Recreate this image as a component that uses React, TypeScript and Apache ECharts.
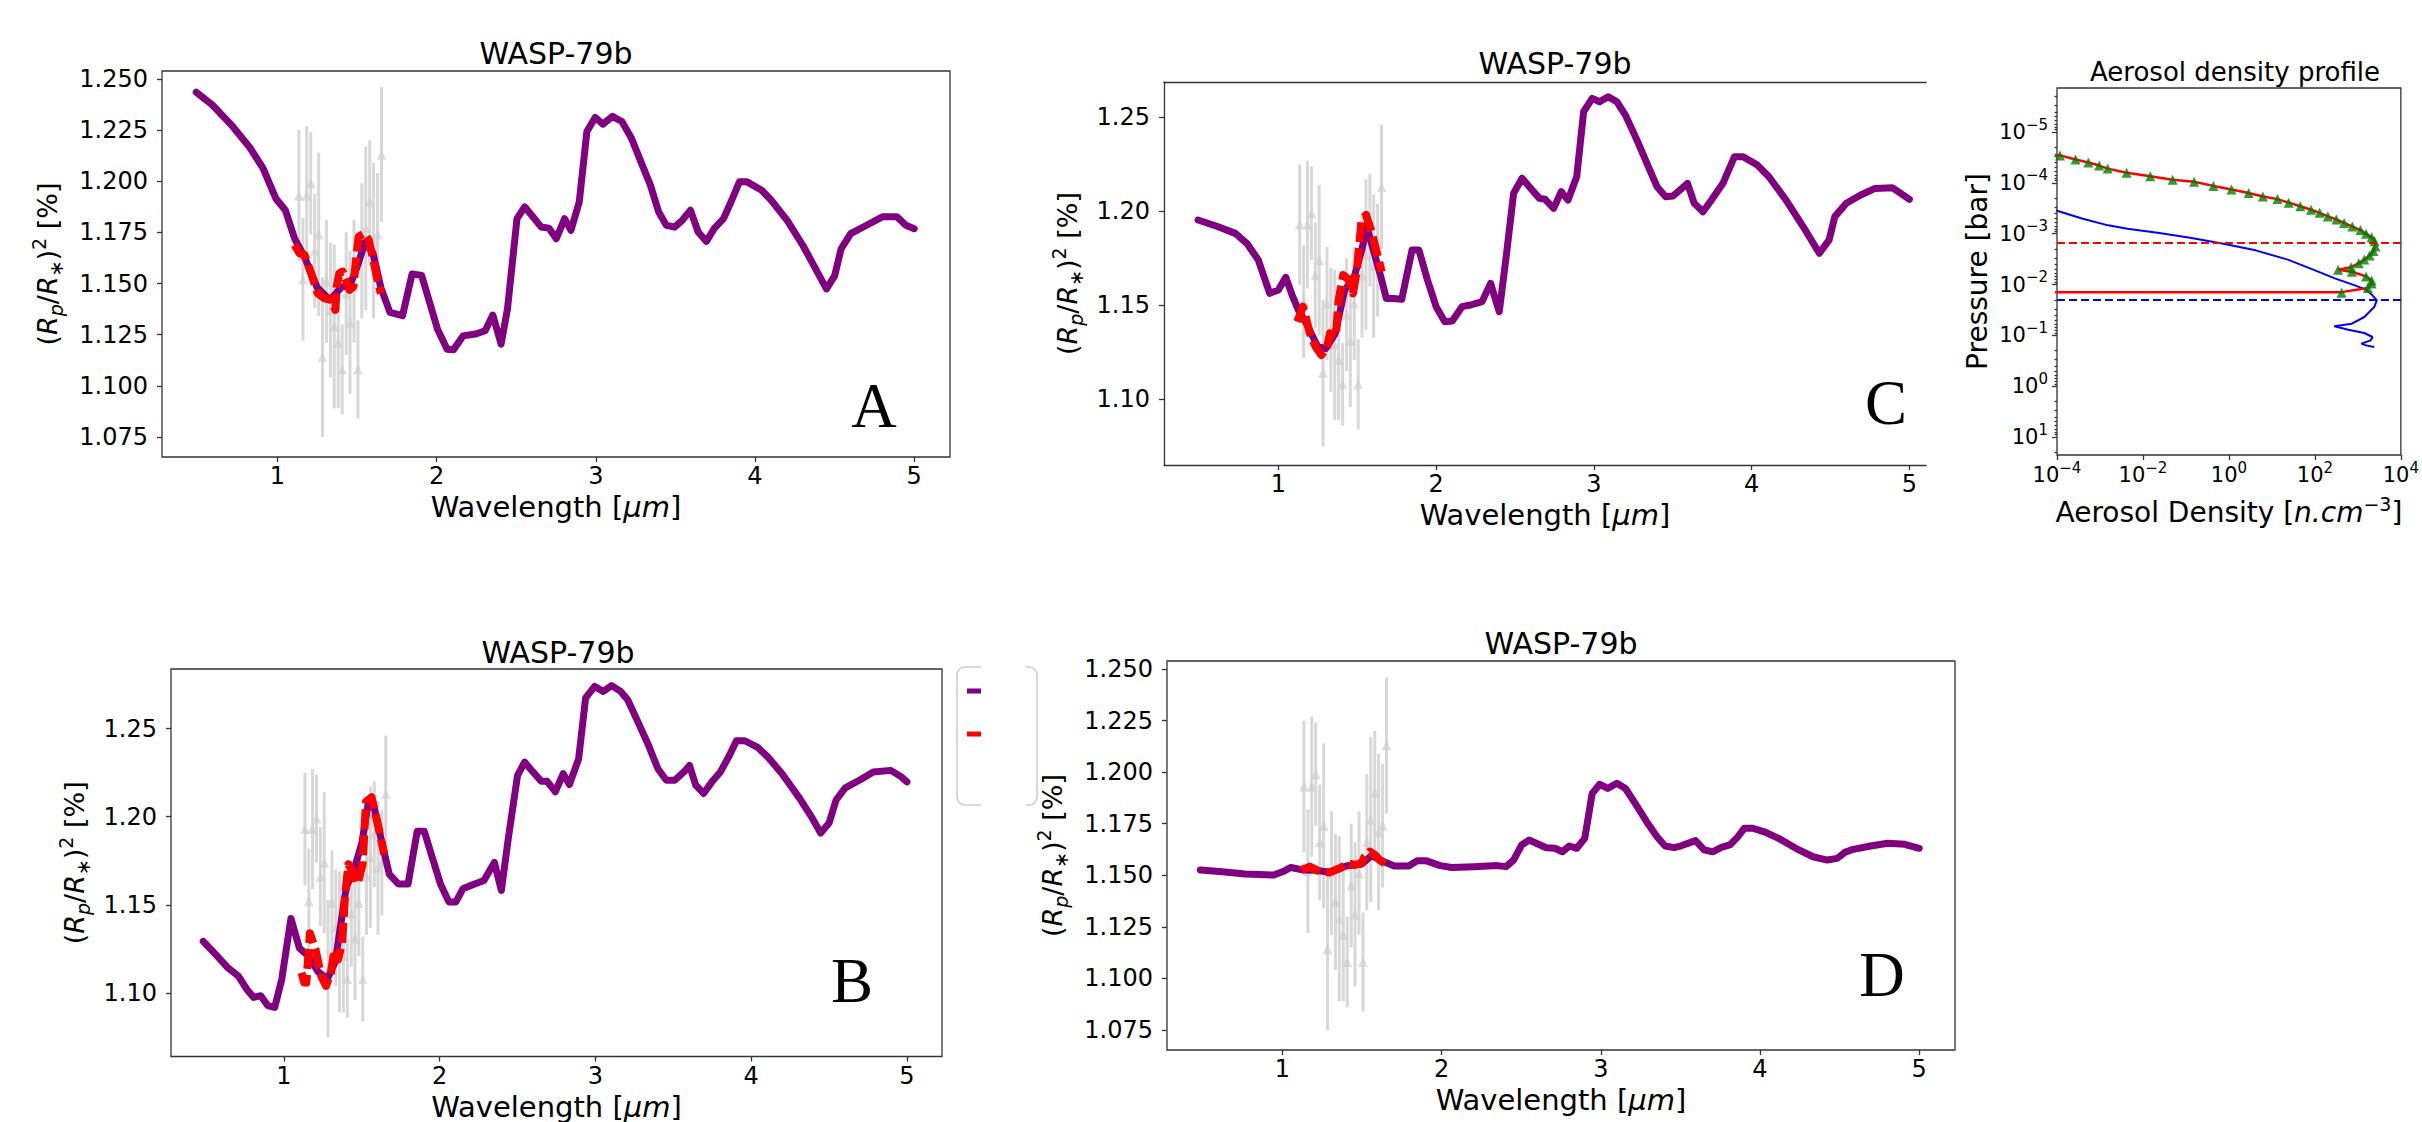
import React, { useEffect, useRef } from "react";
import * as echarts from "echarts";

const FONT = "'DejaVu Sans', sans-serif";
const SERIF = "'Liberation Serif', 'DejaVu Serif', serif";
const AXIS_COLOR = "#333";
const PURPLE = "#800080";
const RED = "#ff0000";
const GRAY = "rgba(205,205,205,0.78)";

// ---------- tick values ----------
const WL_TICKS = [1, 2, 3, 4, 5];
const DEPTH_TICKS_3DP = [1.075, 1.1, 1.125, 1.15, 1.175, 1.2, 1.225, 1.25];
const DEPTH_TICKS_2DP = [1.1, 1.15, 1.2, 1.25];
const AER_X_TICKS = [-4, -2, 0, 2, 4];
const AER_Y_TICKS = [-5, -4, -3, -2, -1, 0, 1];

// ---------- observed spectrum (same in every panel) ----------
const obsWavelength = [1.135, 1.16, 1.184, 1.209, 1.234, 1.259, 1.283, 1.308, 1.333, 1.357, 1.382, 1.407, 1.432, 1.456, 1.481, 1.506, 1.53, 1.555, 1.58, 1.604, 1.629, 1.654];
const obsDepth = [1.193, 1.152, 1.193, 1.199, 1.166, 1.174, 1.114, 1.151, 1.137, 1.129, 1.121, 1.108, 1.145, 1.131, 1.151, 1.108, 1.166, 1.177, 1.19, 1.171, 1.174, 1.213];
const obsError = [0.032, 0.03, 0.034, 0.025, 0.028, 0.04, 0.039, 0.03, 0.033, 0.04, 0.032, 0.022, 0.03, 0.035, 0.03, 0.024, 0.033, 0.04, 0.03, 0.038, 0.03, 0.033];

// ---------- panel A ----------
const modelA = [[0.49,1.2435],[0.59,1.2374],[0.71,1.2276],[0.83,1.2161],[0.91,1.2063],[0.99,1.1916],[1.05,1.1858],[1.108,1.172],[1.17,1.163],[1.25,1.148],[1.33,1.142],[1.4,1.148],[1.46,1.15],[1.5,1.158],[1.55,1.17],[1.6,1.165],[1.65,1.148],[1.707,1.1359],[1.786,1.1343],[1.846,1.1547],[1.906,1.1539],[2.006,1.1277],[2.066,1.1179],[2.106,1.1176],[2.166,1.1244],[2.246,1.1253],[2.305,1.1269],[2.353,1.1346],[2.405,1.1204],[2.445,1.1375],[2.505,1.1817],[2.553,1.1875],[2.605,1.1826],[2.657,1.1776],[2.705,1.1771],[2.752,1.1719],[2.804,1.1817],[2.844,1.176],[2.896,1.1899],[2.944,1.2243],[2.996,1.2312],[3.044,1.2279],[3.104,1.2317],[3.164,1.2292],[3.224,1.221],[3.283,1.2096],[3.343,1.1981],[3.395,1.185],[3.443,1.1785],[3.495,1.1776],[3.543,1.1809],[3.595,1.1858],[3.643,1.1752],[3.695,1.1706],[3.743,1.1768],[3.802,1.1817],[3.854,1.1907],[3.902,1.1997],[3.95,1.1997],[4.042,1.1956],[4.102,1.1907],[4.202,1.1809],[4.301,1.1686],[4.381,1.1572],[4.449,1.1474],[4.501,1.1539],[4.541,1.167],[4.601,1.1744],[4.701,1.1785],[4.8,1.1826],[4.892,1.1826],[4.948,1.1785],[5.0,1.1768]];
const binnedA = [[1.108,1.1689],[1.139,1.1648],[1.17,1.164],[1.212,1.155],[1.253,1.1452],[1.295,1.1428],[1.337,1.142],[1.364,1.1371],[1.372,1.1485],[1.389,1.155],[1.41,1.1558],[1.431,1.1517],[1.452,1.1469],[1.477,1.1485],[1.494,1.1615],[1.51,1.1729],[1.546,1.1746],[1.573,1.1713],[1.598,1.1631],[1.629,1.1517],[1.65,1.1452]];

// ---------- panel B ----------
const modelB = [[0.482,1.1293],[0.572,1.1209],[0.64,1.1143],[0.707,1.1097],[0.761,1.1022],[0.806,1.0975],[0.851,1.0985],[0.896,1.0929],[0.941,1.0919],[0.986,1.1078],[1.045,1.1423],[1.099,1.1255],[1.158,1.1209],[1.22,1.112],[1.28,1.108],[1.33,1.118],[1.4,1.16],[1.45,1.17],[1.5,1.185],[1.54,1.207],[1.58,1.205],[1.63,1.185],[1.676,1.1675],[1.734,1.1619],[1.797,1.1619],[1.856,1.1918],[1.901,1.1918],[1.946,1.1787],[2.005,1.1619],[2.059,1.1517],[2.104,1.1517],[2.149,1.1591],[2.216,1.1616],[2.284,1.1638],[2.351,1.1741],[2.396,1.1582],[2.441,1.188],[2.5,1.2235],[2.545,1.231],[2.599,1.2254],[2.653,1.2201],[2.689,1.2201],[2.743,1.2142],[2.793,1.2244],[2.833,1.2183],[2.892,1.2328],[2.937,1.2674],[2.995,1.2739],[3.05,1.2711],[3.104,1.2744],[3.162,1.2711],[3.207,1.2664],[3.275,1.2534],[3.342,1.2403],[3.401,1.2272],[3.455,1.2207],[3.509,1.2207],[3.568,1.2254],[3.604,1.2291],[3.644,1.2179],[3.694,1.2132],[3.748,1.2198],[3.802,1.2254],[3.86,1.2347],[3.905,1.2431],[3.959,1.2431],[4.041,1.2394],[4.108,1.2338],[4.198,1.2244],[4.311,1.2104],[4.392,1.1992],[4.446,1.1908],[4.5,1.1964],[4.545,1.2095],[4.604,1.2164],[4.694,1.2207],[4.784,1.2254],[4.896,1.2263],[4.964,1.2226],[5.0,1.2198]];
const binnedB = [[1.113,1.1115],[1.13,1.106],[1.144,1.1059],[1.167,1.1339],[1.203,1.1246],[1.239,1.1097],[1.27,1.1041],[1.302,1.1115],[1.324,1.1246],[1.347,1.119],[1.374,1.1283],[1.392,1.1545],[1.414,1.1731],[1.45,1.1676],[1.473,1.1619],[1.505,1.1731],[1.527,1.2086],[1.563,1.211],[1.608,1.1936],[1.644,1.1787]];

// ---------- panel C ----------
const modelC = [[0.491,1.1954],[0.618,1.1918],[0.727,1.1883],[0.8,1.183],[0.873,1.1741],[0.945,1.1564],[1.0,1.1582],[1.047,1.1649],[1.091,1.1546],[1.127,1.1475],[1.18,1.14],[1.25,1.128],[1.3,1.127],[1.36,1.135],[1.42,1.158],[1.48,1.165],[1.53,1.18],[1.56,1.192],[1.6,1.18],[1.65,1.165],[1.684,1.1537],[1.727,1.1537],[1.782,1.1532],[1.847,1.1794],[1.891,1.1794],[1.945,1.1635],[2.0,1.1493],[2.055,1.1413],[2.102,1.1417],[2.164,1.1493],[2.218,1.1502],[2.291,1.152],[2.345,1.1617],[2.4,1.1466],[2.444,1.1759],[2.491,1.2096],[2.545,1.2176],[2.6,1.2122],[2.655,1.2069],[2.691,1.2064],[2.745,1.2016],[2.793,1.2105],[2.836,1.206],[2.891,1.2184],[2.935,1.253],[2.989,1.2601],[3.036,1.2583],[3.091,1.261],[3.145,1.2583],[3.2,1.2512],[3.273,1.2379],[3.345,1.2238],[3.4,1.2131],[3.455,1.2078],[3.502,1.2082],[3.545,1.2113],[3.593,1.2149],[3.636,1.2043],[3.691,1.1998],[3.745,1.206],[3.818,1.2149],[3.891,1.2291],[3.945,1.2291],[4.036,1.2246],[4.109,1.2184],[4.218,1.206],[4.327,1.1918],[4.429,1.1777],[4.491,1.1848],[4.527,1.1972],[4.6,1.2043],[4.691,1.2087],[4.782,1.2122],[4.891,1.2126],[4.945,1.2096],[5.0,1.2064]];
const binnedC = [[1.12,1.1413],[1.156,1.1493],[1.2,1.1351],[1.236,1.128],[1.273,1.1236],[1.309,1.128],[1.327,1.1351],[1.364,1.1333],[1.382,1.1528],[1.411,1.1661],[1.447,1.1635],[1.473,1.1564],[1.498,1.1688],[1.527,1.1954],[1.556,1.1981],[1.593,1.1883],[1.636,1.1741],[1.655,1.1679]];

// ---------- panel D ----------
const modelD = [[0.485,1.1526],[0.622,1.1517],[0.766,1.1506],[0.946,1.1501],[1.0,1.1517],[1.054,1.1538],[1.126,1.1526],[1.2,1.1525],[1.3,1.1515],[1.4,1.1545],[1.5,1.1555],[1.56,1.1595],[1.62,1.1572],[1.703,1.1545],[1.793,1.1545],[1.847,1.1571],[1.901,1.1571],[1.991,1.1547],[2.063,1.1538],[2.207,1.1542],[2.351,1.1547],[2.405,1.1542],[2.452,1.1574],[2.503,1.1647],[2.55,1.1671],[2.604,1.1652],[2.658,1.1634],[2.712,1.1631],[2.759,1.1614],[2.802,1.1642],[2.849,1.1631],[2.899,1.1679],[2.946,1.1897],[2.993,1.1941],[3.043,1.1921],[3.101,1.1946],[3.155,1.1921],[3.216,1.1849],[3.288,1.176],[3.353,1.1687],[3.404,1.1642],[3.461,1.1634],[3.505,1.1643],[3.595,1.1668],[3.649,1.1623],[3.703,1.1614],[3.757,1.1635],[3.811,1.1647],[3.858,1.1684],[3.901,1.1728],[3.955,1.1728],[4.027,1.1711],[4.117,1.1679],[4.225,1.1631],[4.333,1.159],[4.423,1.1574],[4.485,1.1582],[4.532,1.1611],[4.586,1.1626],[4.694,1.1642],[4.802,1.1655],[4.91,1.165],[5.0,1.1631]];
const binnedD = [[1.12,1.1526],[1.172,1.1542],[1.235,1.1518],[1.297,1.1514],[1.36,1.1534],[1.413,1.1558],[1.455,1.155],[1.496,1.1558],[1.517,1.1591],[1.549,1.1615],[1.58,1.1599],[1.611,1.1574],[1.653,1.1553]];

// ---------- aerosol density profile (log10 density, log10 pressure) ----------
const aerosolRetrieved = [[-4.2,-4.56],[-3.93,-4.54],[-3.57,-4.46],[-3.27,-4.4],[-3.02,-4.34],[-2.82,-4.28],[-2.38,-4.2],[-1.83,-4.13],[-1.31,-4.06],[-0.81,-4.02],[-0.36,-3.94],[0.06,-3.87],[0.46,-3.8],[0.79,-3.73],[1.13,-3.68],[1.39,-3.61],[1.66,-3.54],[1.91,-3.47],[2.11,-3.41],[2.3,-3.34],[2.5,-3.28],[2.68,-3.21],[2.87,-3.14],[3.06,-3.07],[3.19,-3.0],[3.32,-2.93],[3.39,-2.85],[3.41,-2.75],[3.36,-2.66],[3.27,-2.57],[3.15,-2.49],[3.02,-2.42],[2.84,-2.34],[2.54,-2.29],[2.86,-2.25],[3.19,-2.16],[3.32,-2.08],[3.32,-2.02],[3.23,-1.93],[2.62,-1.85],[-6,-1.85]];
const aerosolMarkers = [[-3.93,-4.54],[-3.57,-4.46],[-3.27,-4.4],[-3.02,-4.34],[-2.82,-4.28],[-2.38,-4.2],[-1.83,-4.13],[-1.31,-4.06],[-0.81,-4.02],[-0.36,-3.94],[0.06,-3.87],[0.46,-3.8],[0.79,-3.73],[1.13,-3.68],[1.39,-3.61],[1.66,-3.54],[1.91,-3.47],[2.11,-3.41],[2.3,-3.34],[2.5,-3.28],[2.68,-3.21],[2.87,-3.14],[3.06,-3.07],[3.19,-3.0],[3.32,-2.93],[3.39,-2.85],[3.41,-2.75],[3.36,-2.66],[3.27,-2.57],[3.15,-2.49],[3.02,-2.42],[2.84,-2.34],[2.54,-2.29],[2.86,-2.25],[3.19,-2.16],[3.32,-2.08],[3.32,-2.02],[3.23,-1.93],[2.62,-1.84]];
const aerosolProfile = [[-4.05,-3.47],[-3.98,-3.446],[-3.4,-3.295],[-2.81,-3.164],[-2.36,-3.098],[-1.62,-3.013],[-0.87,-2.915],[-0.13,-2.803],[0.62,-2.672],[1.37,-2.489],[1.96,-2.292],[2.48,-2.115],[2.93,-1.984],[3.19,-1.898],[3.34,-1.787],[3.44,-1.689],[3.38,-1.557],[3.15,-1.361],[2.86,-1.23],[2.45,-1.177],[2.78,-1.111],[3.15,-1.046],[3.34,-0.967],[3.3,-0.902],[3.08,-0.836],[3.19,-0.803],[3.38,-0.77]];
const cloudTopLogP = -2.82;
const cloudBaseLogP = -1.71;

// ---------- helpers ----------
const obs = obsWavelength.map((w, i) => [w, obsDepth[i], obsError[i]]);

const minorLogTicks = (() => {
  const out: number[] = [];
  for (let n = -7; n <= 2; n++) {
    for (let k = 2; k <= 9; k++) out.push(n + Math.log10(k));
  }
  return out.filter((v) => v > -5.866 && v < 1.354);
})();

const txt = (size: number, extra: any = {}) => ({ fontSize: size, fontFamily: FONT, color: "#000", ...extra });

const depthNameRich = {
  n: txt(27, { lineHeight: 36 }),
  i: txt(27, { lineHeight: 36, fontStyle: "italic" }),
  sb: txt(19, { lineHeight: 22, fontStyle: "italic", verticalAlign: "bottom" }),
  sp: txt(19, { lineHeight: 22, verticalAlign: "top" }),
};
const DEPTH_NAME = "{n|(}{i|R}{sb|p}{n|/}{i|R}{sb|∗}{n|)}{sp|2}{n| [%]}";

const wlNameRich = {
  n: txt(29, { lineHeight: 36 }),
  i: txt(29, { lineHeight: 36, fontStyle: "italic" }),
};
const WL_NAME = "{n|Wavelength [}{i|μm}{n|]}";

const powRich = {
  b: txt(21, { lineHeight: 30 }),
  s: txt(15, { lineHeight: 16, verticalAlign: "top" }),
};
const powFmt = (v: number) => {
  const r = Math.round(v);
  return "{b|10}{s|" + (r < 0 ? "\u2212" + -r : String(r)) + "}";
};

const tickStyle = (len: number, values: number[]) => ({
  show: true,
  length: len,
  customValues: values,
  lineStyle: { color: AXIS_COLOR, width: 1.3 },
});

const axisLineStyle = (show: boolean) => ({
  show,
  onZero: false,
  lineStyle: { color: AXIS_COLOR, width: 1.3 },
});

function wlAxis(grid: number, max: number, line: boolean) {
  return {
    type: "value",
    gridIndex: grid,
    min: 0.275,
    max,
    axisLine: axisLineStyle(line),
    axisTick: tickStyle(5, WL_TICKS),
    axisLabel: { customValues: WL_TICKS, margin: 7, ...txt(24), formatter: (v: number) => String(v) },
    splitLine: { show: false },
    name: WL_NAME,
    nameLocation: "middle",
    nameGap: 32,
    nameTextStyle: { rich: wlNameRich },
  };
}

function depthAxis(grid: number, min: number, max: number, ticks: number[], dp: number, gap: number, line: boolean) {
  return {
    type: "value",
    gridIndex: grid,
    min,
    max,
    axisLine: axisLineStyle(line),
    axisTick: tickStyle(5, ticks),
    axisLabel: { customValues: ticks, margin: 14, ...txt(24), formatter: (v: number) => v.toFixed(dp) },
    splitLine: { show: false },
    name: DEPTH_NAME,
    nameLocation: "middle",
    nameRotate: 90,
    nameGap: gap,
    nameTextStyle: { rich: depthNameRich },
  };
}

const errorBarItem = (params: any, api: any) => {
  const x = api.value(0);
  const y = api.value(1);
  const e = api.value(2);
  const top = api.coord([x, y + e]);
  const bot = api.coord([x, y - e]);
  return {
    type: "line",
    shape: { x1: top[0], y1: top[1], x2: bot[0], y2: bot[1] },
    style: { stroke: GRAY, lineWidth: 3 },
  };
};

function panelSeries(axisIndex: number, model: number[][], binned: number[][]) {
  return [
    {
      type: "custom",
      xAxisIndex: axisIndex,
      yAxisIndex: axisIndex,
      data: obs,
      encode: { x: 0, y: 1 },
      renderItem: errorBarItem,
      silent: true,
      z: 1,
    },
    {
      type: "scatter",
      xAxisIndex: axisIndex,
      yAxisIndex: axisIndex,
      data: obs.map((o) => [o[0], o[1]]),
      symbol: "triangle",
      symbolSize: 10,
      itemStyle: { color: GRAY },
      silent: true,
      z: 1,
    },
    {
      type: "line",
      xAxisIndex: axisIndex,
      yAxisIndex: axisIndex,
      data: model,
      symbol: "none",
      lineStyle: { color: PURPLE, width: 7, cap: "round", join: "round" },
      silent: true,
      z: 2,
    },
    {
      type: "line",
      xAxisIndex: axisIndex,
      yAxisIndex: axisIndex,
      data: binned,
      symbol: "none",
      lineStyle: { color: RED, width: 8, type: [20, 6], cap: "butt", join: "round" },
      silent: true,
      z: 3,
    },
  ];
}

const titleText = (x: number, y: number, text: string, size = 30) => ({
  type: "text",
  x,
  y,
  style: { text, ...txt(size), fill: "#000", align: "center", verticalAlign: "middle" },
});
const letterText = (x: number, y: number, text: string) => ({
  type: "text",
  x,
  y,
  style: { text, fontSize: 63, fontFamily: SERIF, fill: "#000", align: "center", verticalAlign: "middle" },
});

const option: any = {
  animation: false,
  backgroundColor: "#ffffff",
  grid: [
    { left: 162, top: 71, width: 788, height: 386, show: true, borderColor: AXIS_COLOR, borderWidth: 1.3 },
    { left: 1164, top: 82, width: 762, height: 383, show: false },
    { left: 171, top: 669, width: 771, height: 394, show: true, borderColor: AXIS_COLOR, borderWidth: 1.3 },
    { left: 1167, top: 661, width: 788, height: 389, show: true, borderColor: AXIS_COLOR, borderWidth: 1.3 },
    { left: 2057, top: 88, width: 356, height: 367, show: true, borderColor: AXIS_COLOR, borderWidth: 1.3 },
  ],
  xAxis: [
    wlAxis(0, 5.225, false),
    wlAxis(1, 5.105, true),
    wlAxis(2, 5.225, false),
    wlAxis(3, 5.225, false),
    {
      type: "value",
      gridIndex: 4,
      min: -4,
      max: 4,
      axisLine: axisLineStyle(false),
      axisTick: tickStyle(5, AER_X_TICKS),
      axisLabel: { customValues: AER_X_TICKS, margin: 5, formatter: powFmt, rich: powRich },
      splitLine: { show: false },
      name: "{n|Aerosol Density [}{i|n.cm}{s|\u22123}{n|]}",
      nameLocation: "middle",
      nameGap: 39,
      nameTextStyle: {
        rich: {
          n: txt(28, { lineHeight: 36 }),
          i: txt(28, { lineHeight: 36, fontStyle: "italic" }),
          s: txt(19, { lineHeight: 20, verticalAlign: "top" }),
        },
      },
    },
    {
      type: "value",
      gridIndex: 1,
      position: "top",
      min: 0.275,
      max: 5.105,
      axisLine: axisLineStyle(true),
      axisTick: { show: false },
      axisLabel: { show: false },
      splitLine: { show: false },
    },
  ],
  yAxis: [
    depthAxis(0, 1.0652, 1.2539, DEPTH_TICKS_3DP, 3, 97, false),
    depthAxis(1, 1.0651, 1.2688, DEPTH_TICKS_2DP, 2, 79, true),
    depthAxis(2, 1.064, 1.2838, DEPTH_TICKS_2DP, 2, 79, false),
    depthAxis(3, 1.0653, 1.2539, DEPTH_TICKS_3DP, 3, 97, false),
    {
      type: "value",
      gridIndex: 4,
      position: "left",
      min: -5.866,
      max: 1.354,
      inverse: true,
      axisLine: axisLineStyle(false),
      axisTick: tickStyle(5, AER_Y_TICKS),
      axisLabel: { customValues: AER_Y_TICKS, margin: 9, formatter: powFmt, rich: powRich },
      splitLine: { show: false },
      name: "Pressure [bar]",
      nameLocation: "middle",
      nameRotate: 90,
      nameGap: 62,
      nameTextStyle: { ...txt(28), lineHeight: 36 },
    },
    {
      type: "value",
      gridIndex: 4,
      position: "left",
      min: -5.866,
      max: 1.354,
      inverse: true,
      axisLine: axisLineStyle(false),
      axisTick: tickStyle(2.5, minorLogTicks),
      axisLabel: { show: false },
      splitLine: { show: false },
    },
  ],
  series: [
    ...panelSeries(0, modelA, binnedA),
    ...panelSeries(1, modelC, binnedC),
    ...panelSeries(2, modelB, binnedB),
    ...panelSeries(3, modelD, binnedD),
    {
      type: "line",
      xAxisIndex: 4,
      yAxisIndex: 4,
      data: aerosolProfile,
      symbol: "none",
      lineStyle: { color: "#0000ff", width: 2 },
      silent: true,
      z: 3,
      markLine: {
        silent: true,
        symbol: ["none", "none"],
        label: { show: false },
        data: [
          { yAxis: cloudTopLogP, lineStyle: { color: "#ff0000", width: 2.2, type: [8, 4] } },
          { yAxis: cloudBaseLogP, lineStyle: { color: "#0000ff", width: 2.2, type: [8, 4] } },
        ],
      },
    },
    {
      type: "line",
      xAxisIndex: 4,
      yAxisIndex: 4,
      data: aerosolRetrieved,
      symbol: "none",
      lineStyle: { color: "#ff0000", width: 2.5 },
      silent: true,
      z: 3,
    },
    {
      type: "scatter",
      xAxisIndex: 4,
      yAxisIndex: 4,
      data: aerosolMarkers,
      symbol: "triangle",
      symbolSize: 10,
      itemStyle: { color: "#008000" },
      silent: true,
      z: 4,
    },
  ],
  graphic: [
    titleText(556, 53, "WASP-79b"),
    titleText(1555, 63, "WASP-79b"),
    titleText(558, 652, "WASP-79b"),
    titleText(1561, 643, "WASP-79b"),
    titleText(2235, 72, "Aerosol density profile", 26),
    letterText(874, 406, "A"),
    letterText(1886, 403, "C"),
    letterText(852, 981, "B"),
    letterText(1882, 975, "D"),
    {
      type: "rect",
      shape: { x: 957, y: 667, width: 80, height: 138, r: 8 },
      style: { fill: "#ffffff", stroke: "#cccccc", lineWidth: 1.5 },
    },
    { type: "line", shape: { x1: 967, y1: 691, x2: 1010, y2: 691 }, style: { stroke: PURPLE, lineWidth: 5 } },
    { type: "line", shape: { x1: 967, y1: 734, x2: 1010, y2: 734 }, style: { stroke: RED, lineWidth: 5 } },
    { type: "rect", shape: { x: 981, y: 655, width: 45, height: 165 }, style: { fill: "#ffffff" } },
  ],
};

export default function App() {
  const ref = useRef<HTMLDivElement>(null);
  useEffect(() => {
    if (!ref.current) return;
    const chart = echarts.init(ref.current, null, { renderer: "svg" });
    chart.setOption(option);
    return () => chart.dispose();
  }, []);
  return (
    <div
      ref={ref}
      style={{ position: "fixed", left: 0, top: 0, width: 2422, height: 1122, background: "#fff" }}
    />
  );
}
